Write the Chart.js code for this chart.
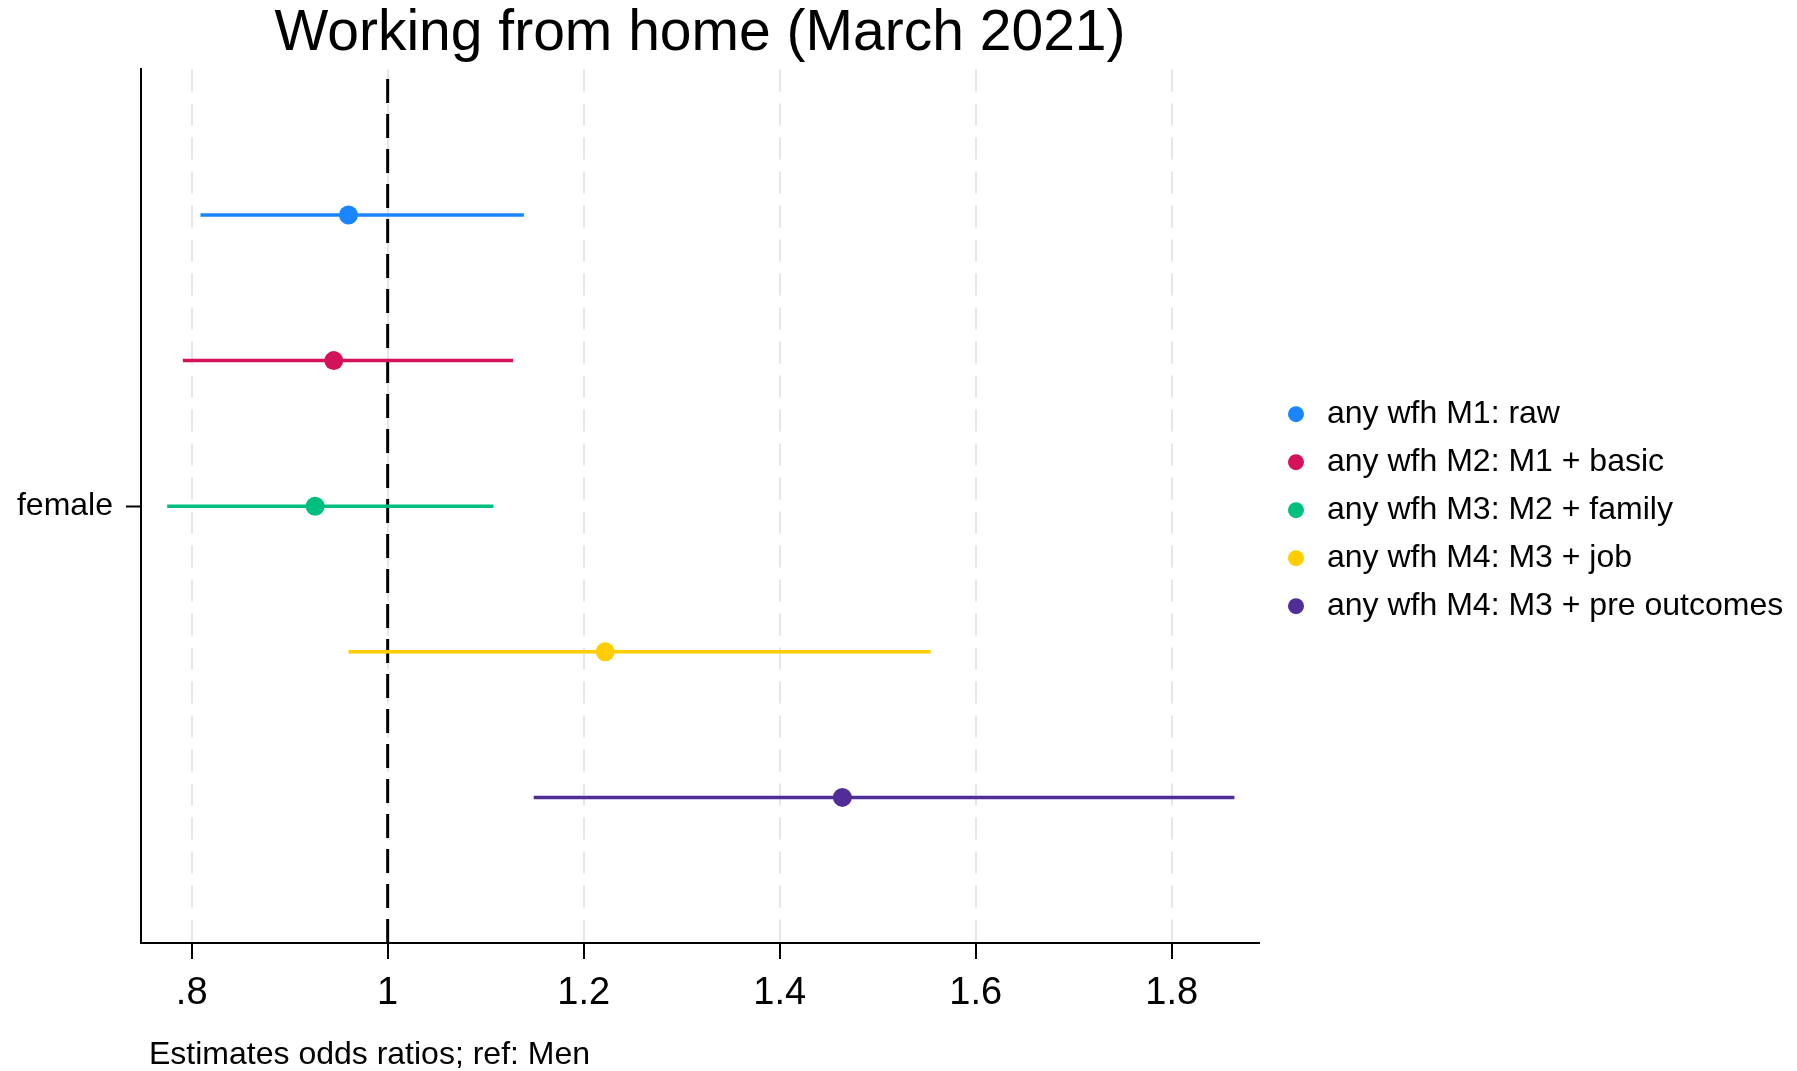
<!DOCTYPE html>
<html>
<head>
<meta charset="utf-8">
<title>Working from home (March 2021)</title>
<script src="https://cdn.jsdelivr.net/npm/chart.js@4.4.1/dist/chart.umd.min.js"></script>
<style>
  html, body { margin: 0; padding: 0; background: #ffffff; }
  #wrap { width: 1797px; height: 1071px; }
</style>
</head>
<body>
<div id="wrap"><canvas id="chart" width="1797" height="1071"></canvas></div>
<script>
// Odds ratios for "female" (ref: men) across nested models
const modelLabels = [
  'any wfh M1: raw',
  'any wfh M2: M1 + basic',
  'any wfh M3: M2 + family',
  'any wfh M4: M3 + job',
  'any wfh M4: M3 + pre outcomes'
];
const estimates = [0.960, 0.945, 0.926, 1.222, 1.464];
const ciLower   = [0.809, 0.791, 0.775, 0.960, 1.149];
const ciUpper   = [1.139, 1.128, 1.108, 1.554, 1.864];
// vertical slot of each model around the "female" row
const rowPositions = [2, 1, 0, -1, -2];
const modelColors = ['#1a85ff', '#d41159', '#00bf7f', '#ffcd00', '#512d98'];

const xTickValues = [0.8, 1.0, 1.2, 1.4, 1.6, 1.8];
const xTickLabels = ['.8', '1', '1.2', '1.4', '1.6', '1.8'];
const yTickValues = [0];
const yTickLabels = ['female'];
const referenceValue = [1];

const X_MIN = 0.7483, X_MAX = 1.8891;
const Y_MIN = -3, Y_MAX = 3;

Chart.defaults.font.family = "'Liberation Sans', Arial, sans-serif";
Chart.defaults.color = '#000000';

const pointSets = estimates.map((v, i) => ({
  label: modelLabels[i],
  isEstimate: true,
  data: [{ x: v, y: rowPositions[i] }],
  backgroundColor: modelColors[i],
  borderColor: modelColors[i],
  borderWidth: 0,
  pointRadius: 9.5,
  pointHoverRadius: 9.5,
  showLine: false
}));

const ciSets = estimates.map((v, i) => ({
  label: modelLabels[i] + ' CI',
  data: [{ x: ciLower[i], y: rowPositions[i] }, { x: ciUpper[i], y: rowPositions[i] }],
  borderColor: modelColors[i],
  backgroundColor: modelColors[i],
  borderWidth: 3.5,
  pointRadius: 0,
  showLine: true
}));

const refSet = {
  label: 'reference',
  data: [{ x: referenceValue[0], y: Y_MIN }, { x: referenceValue[0], y: Y_MAX }],
  borderColor: '#000000',
  borderWidth: 3,
  borderDash: [24, 11],
  pointRadius: 0,
  showLine: true
};

// keeps the legend column at a fixed width, nudges it off the axis end,
// and indents the x-axis note slightly
const LEGEND_WIDTH = 538;
const placement = {
  id: 'placement',
  beforeLayout(chart) {
    const lg = chart.legend;
    if (lg && !lg._fixedWidth) {
      const fit = lg.fit;
      lg.fit = function () { fit.call(this); this.width = LEGEND_WIDTH; };
      lg._fixedWidth = true;
    }
  },
  afterLayout(chart) {
    const lg = chart.legend;
    if (lg) { lg.left += 6; lg.right += 6; lg.top += 4; lg.bottom += 4; }
    const sx = chart.scales.x;
    if (sx && !sx._titleIndented) {
      const drawTitle = sx.drawTitle;
      sx.drawTitle = function () {
        const c = this.ctx;
        c.save();
        c.translate(8, 0);
        drawTitle.call(this);
        c.restore();
      };
      sx._titleIndented = true;
    }
  }
};

new Chart(document.getElementById('chart'), {
  type: 'scatter',
  data: { datasets: [...pointSets, ...ciSets, refSet] },
  plugins: [placement],
  options: {
    responsive: false,
    devicePixelRatio: 1,
    animation: false,
    events: [],
    layout: { padding: 0 },
    plugins: {
      tooltip: { enabled: false },
      title: {
        display: true,
        fullSize: false,
        text: 'Working from home (March 2021)',
        color: '#000000',
        font: { size: 57, weight: 'normal', lineHeight: 1.2 },
        padding: { top: 0, bottom: 1 }
      },
      legend: {
        display: true,
        position: 'right',
        fullSize: false,
        align: 'center',
        labels: {
          usePointStyle: true,
          pointStyle: 'circle',
          boxWidth: 30,
          boxHeight: 11.3,
          padding: 16,
          color: '#000000',
          font: { size: 32 },
          filter: (item, data) => !!data.datasets[item.datasetIndex].isEstimate
        }
      }
    },
    scales: {
      x: {
        type: 'linear',
        position: 'bottom',
        min: X_MIN,
        max: X_MAX,
        afterFit(scale) { scale.height = 128; },
        afterBuildTicks(scale) { scale.ticks = xTickValues.map(v => ({ value: v })); },
        ticks: {
          autoSkip: false,
          maxRotation: 0,
          padding: 12,
          color: '#000000',
          font: { size: 38 },
          callback: (value, index) => xTickLabels[index]
        },
        grid: {
          color: '#e6e6e6',
          lineWidth: 2,
          drawTicks: true,
          tickLength: 16,
          tickColor: '#000000',
          tickWidth: 2
        },
        border: { display: true, color: '#000000', width: 2, dash: [22, 12] },
        title: {
          display: true,
          text: 'Estimates odds ratios; ref: Men',
          align: 'start',
          color: '#000000',
          font: { size: 32, lineHeight: 1.0 },
          padding: { top: 0, bottom: 0 }
        }
      },
      y: {
        type: 'linear',
        position: 'left',
        min: Y_MIN,
        max: Y_MAX,
        afterFit(scale) { scale.width = 141; },
        afterBuildTicks(scale) { scale.ticks = yTickValues.map(v => ({ value: v })); },
        ticks: {
          autoSkip: false,
          padding: 13,
          color: '#000000',
          font: { size: 32 },
          callback: (value, index) => yTickLabels[index]
        },
        grid: {
          drawOnChartArea: false,
          drawTicks: true,
          tickLength: 15,
          tickColor: '#000000',
          tickWidth: 2
        },
        border: { display: true, color: '#000000', width: 2 }
      }
    }
  }
});
</script>
</body>
</html>
